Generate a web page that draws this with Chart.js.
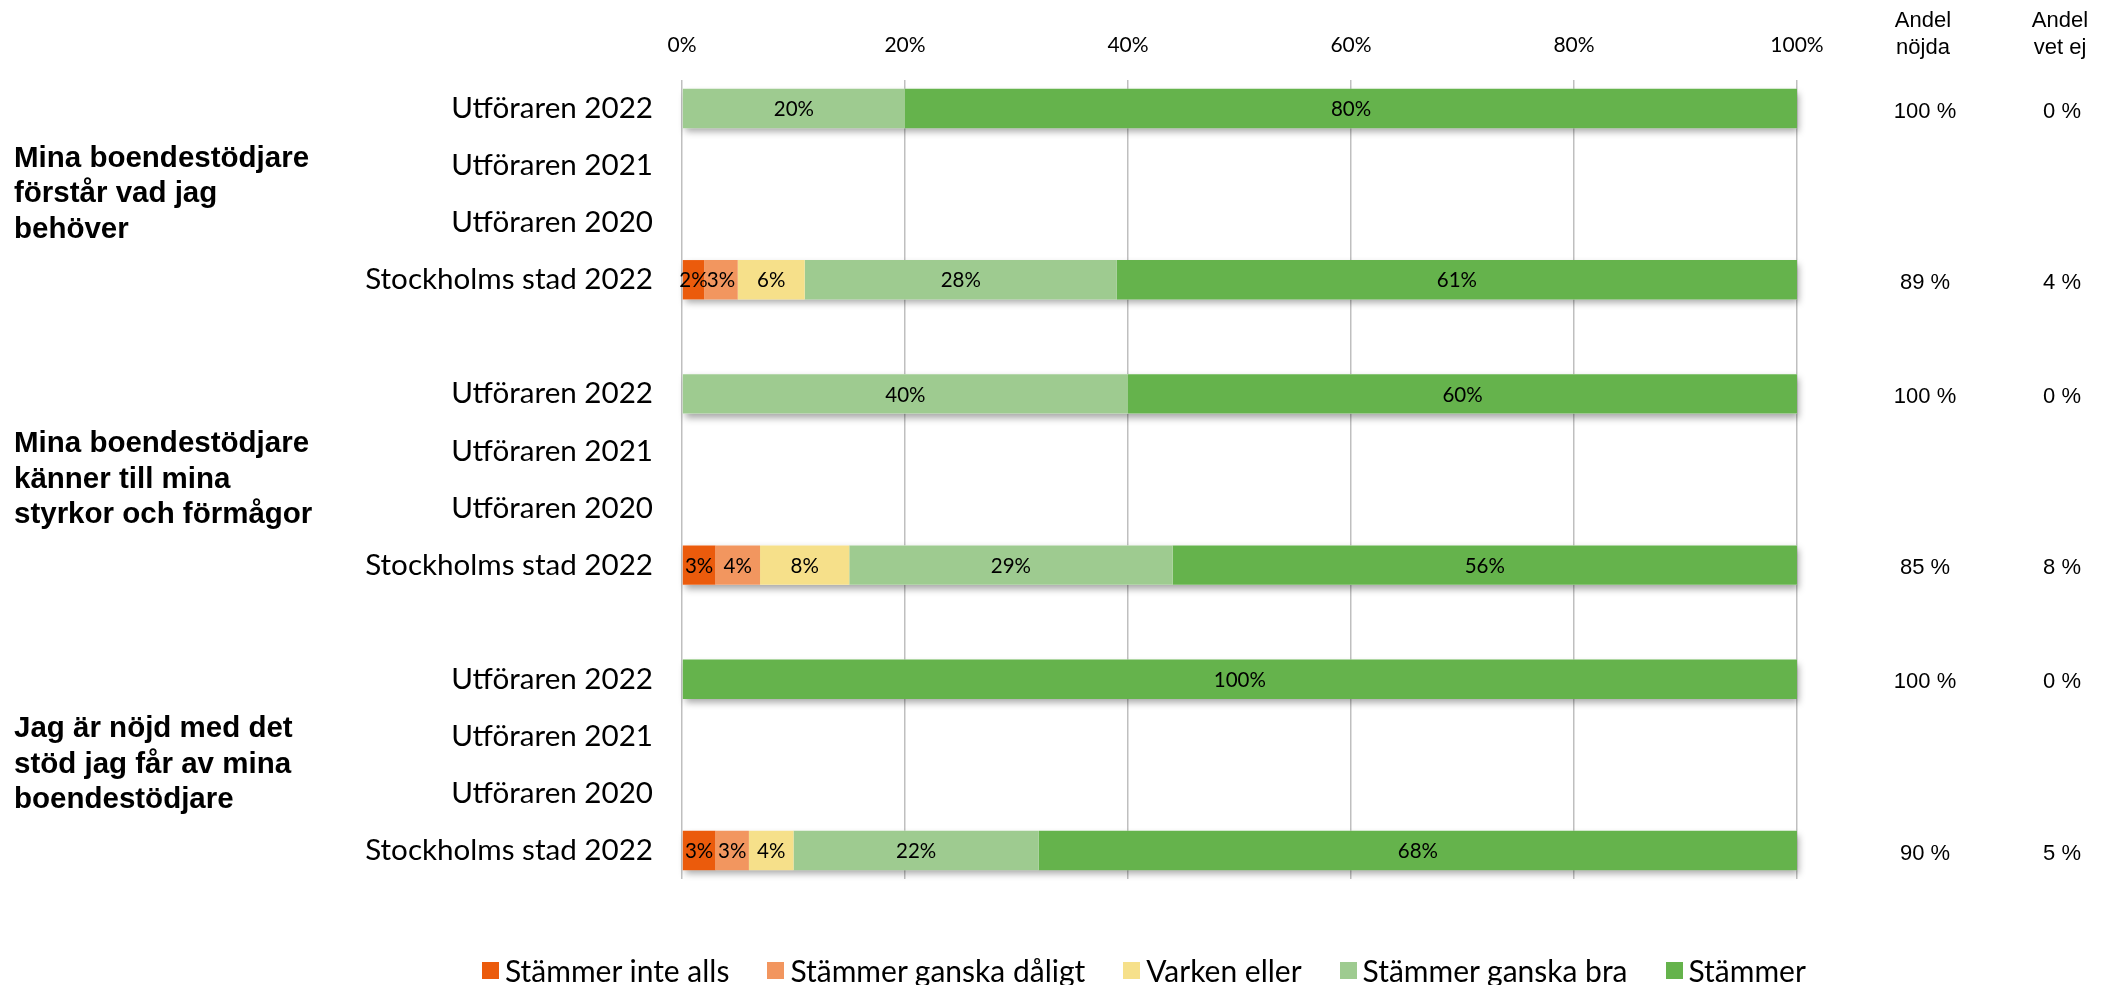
<!DOCTYPE html>
<html>
<head>
<meta charset="utf-8">
<script src="https://cdn.jsdelivr.net/npm/chart.js@4.4.1/dist/chart.umd.min.js"></script>
<style>
html,body{margin:0;padding:0;background:#fff;}
.wrap{position:relative;width:2113px;height:985px;}
.attack-legend{position:absolute;left:482px;top:949px;display:flex;font:30px Lato;line-height:42px;color:#000;white-space:nowrap;}
.attack-legend div{display:flex;align-items:center;margin-right:38px;}
.attack-legend .c{display:inline-block;width:17px;height:17px;margin-right:6px;}
</style>
</head>
<body>
<div class="wrap">
  <canvas id="surveyChart" width="2113" height="985"></canvas>
  <div class="attack-legend"></div>
</div>
<script>
const rowLabels = [
  "Utföraren 2022", "Utföraren 2021", "Utföraren 2020", "Stockholms stad 2022", "",
  "Utföraren 2022", "Utföraren 2021", "Utföraren 2020", "Stockholms stad 2022", "",
  "Utföraren 2022", "Utföraren 2021", "Utföraren 2020", "Stockholms stad 2022"
];
const questions = [
  ["Mina boendestödjare", "förstår vad jag", "behöver"],
  ["Mina boendestödjare", "känner till mina", "styrkor och förmågor"],
  ["Jag är nöjd med det", "stöd jag får av mina", "boendestödjare"]
];
const questionRows = [[0, 3], [5, 8], [10, 13]];

const answers = ["Stämmer inte alls", "Stämmer ganska dåligt", "Varken eller", "Stämmer ganska bra", "Stämmer"];
const colors = ["#eb5b0c", "#f2965f", "#f6e08a", "#9ecb90", "#65b34c"];

const inteAlls     = [0, null, null, 2, null, 0, null, null, 3, null, 0, null, null, 3];
const ganskaDaligt = [0, null, null, 3, null, 0, null, null, 4, null, 0, null, null, 3];
const varkenEller  = [0, null, null, 6, null, 0, null, null, 8, null, 0, null, null, 4];
const ganskaBra    = [20, null, null, 28, null, 40, null, null, 29, null, 0, null, null, 22];
const stammer      = [80, null, null, 61, null, 60, null, null, 56, null, 100, null, null, 68];

const andelNojda = ["100 %", "", "", "89 %", "", "100 %", "", "", "85 %", "", "100 %", "", "", "90 %"];
const andelVetEj = ["0 %", "", "", "4 %", "", "0 %", "", "", "8 %", "", "0 %", "", "", "5 %"];
const sideHeaders = [["Andel", "nöjda"], ["Andel", "vet ej"]];

const xTicks = [0, 20, 40, 60, 80, 100];

// soft shadow under each whole stacked bar
const barShadow = {
  id: "barShadow",
  beforeDatasetsDraw(chart) {
    const ctx = chart.ctx;
    const metas = chart.data.datasets.map((d, i) => chart.getDatasetMeta(i));
    ctx.save();
    ctx.shadowColor = "rgba(0,0,0,0.35)";
    ctx.shadowBlur = 7;
    ctx.shadowOffsetX = 2;
    ctx.shadowOffsetY = 4;
    ctx.fillStyle = "#ffffff";
    rowLabels.forEach((r, j) => {
      let lo = Infinity, hi = -Infinity, y = 0, h = 0;
      metas.forEach((m, i) => {
        const v = chart.data.datasets[i].data[j];
        if (!v) return;
        const b = m.data[j];
        lo = Math.min(lo, b.base, b.x);
        hi = Math.max(hi, b.base, b.x);
        y = b.y; h = b.height;
      });
      if (hi > lo) ctx.fillRect(lo, y - h / 2, hi - lo, h);
    });
    ctx.restore();
  }
};

const barLabels = {
  id: "barLabels",
  afterDatasetsDraw(chart) {
    const ctx = chart.ctx;
    ctx.save();
    ctx.font = "20.5px Lato";
    ctx.fillStyle = "#000";
    ctx.textAlign = "center";
    ctx.textBaseline = "middle";
    chart.data.datasets.forEach((ds, i) => {
      chart.getDatasetMeta(i).data.forEach((bar, j) => {
        const v = ds.data[j];
        if (!v) return;
        ctx.fillText(v + "%", (bar.x + bar.base) / 2, bar.y + 1);
      });
    });
    ctx.restore();
  }
};

const sideText = {
  id: "sideText",
  afterDraw(chart) {
    const ctx = chart.ctx;
    const y = chart.scales.y;
    ctx.save();
    ctx.fillStyle = "#000";
    ctx.textBaseline = "middle";

    // question titles on the left
    ctx.font = "bold 29.5px 'Liberation Sans'";
    ctx.textAlign = "left";
    questions.forEach((lines, q) => {
      const mid = (y.getPixelForValue(questionRows[q][0]) + y.getPixelForValue(questionRows[q][1])) / 2;
      lines.forEach((t, k) => ctx.fillText(t, 14, mid + (k - 1) * 35.5));
    });

    // right columns
    ctx.font = "22px 'Liberation Sans'";
    ctx.textAlign = "center";
    const colX = [1925, 2062];
    sideHeaders.forEach((h, c) => {
      ctx.fillText(h[0], colX[c] - 2, 21);
      ctx.fillText(h[1], colX[c] - 2, 48);
    });
    rowLabels.forEach((r, j) => {
      const py = y.getPixelForValue(j) + 3;
      if (andelNojda[j]) ctx.fillText(andelNojda[j], colX[0], py);
      if (andelVetEj[j]) ctx.fillText(andelVetEj[j], colX[1], py);
    });
    ctx.restore();
  }
};

function renderSurveyChart() {
  const ctx = document.getElementById("surveyChart");
  const series = [inteAlls, ganskaDaligt, varkenEller, ganskaBra, stammer];

  new Chart(ctx, {
    type: "bar",
    data: {
      labels: rowLabels,
      datasets: series.map((s, i) => ({
        label: answers[i],
        data: s,
        backgroundColor: colors[i],
        borderWidth: 0,
        categoryPercentage: 1,
        barPercentage: 0.69
      }))
    },
    options: {
      indexAxis: "y",
      responsive: false,
      animation: false,
      layout: { padding: { left: 0, right: 316, top: 0, bottom: 106 } },
      plugins: {
        legend: { display: false },
        tooltip: { enabled: false }
      },
      scales: {
        x: {
          position: "top",
          stacked: true,
          min: 0,
          max: 100,
          afterBuildTicks: s => { s.ticks = xTicks.map(v => ({ value: v })); },
          afterFit: s => { s.height = 80; },
          ticks: {
            callback: v => v + "%",
            font: { family: "Lato", size: 21 },
            color: "#000",
            padding: 22,
            maxRotation: 0
          },
          grid: { color: "#bfbfbf", lineWidth: 1.5, drawTicks: false },
          border: { display: false }
        },
        y: {
          stacked: true,
          afterFit: s => { s.width = 682; },
          ticks: {
            font: { family: "Lato", size: 29.6 },
            color: "#000",
            padding: 21,
            autoSkip: false
          },
          grid: { display: false },
          border: { display: false }
        }
      }
    },
    plugins: [barShadow, barLabels, sideText]
  });

  renderLegend();
}

function renderLegend() {
  const legend = document.querySelector(".attack-legend");
  legend.innerHTML = "";
  answers.forEach((a, i) => {
    legend.innerHTML += `<div><span class="c" style="background:${colors[i]}"></span>${a}</div>`;
  });
}

renderSurveyChart();
</script>
</body>
</html>
